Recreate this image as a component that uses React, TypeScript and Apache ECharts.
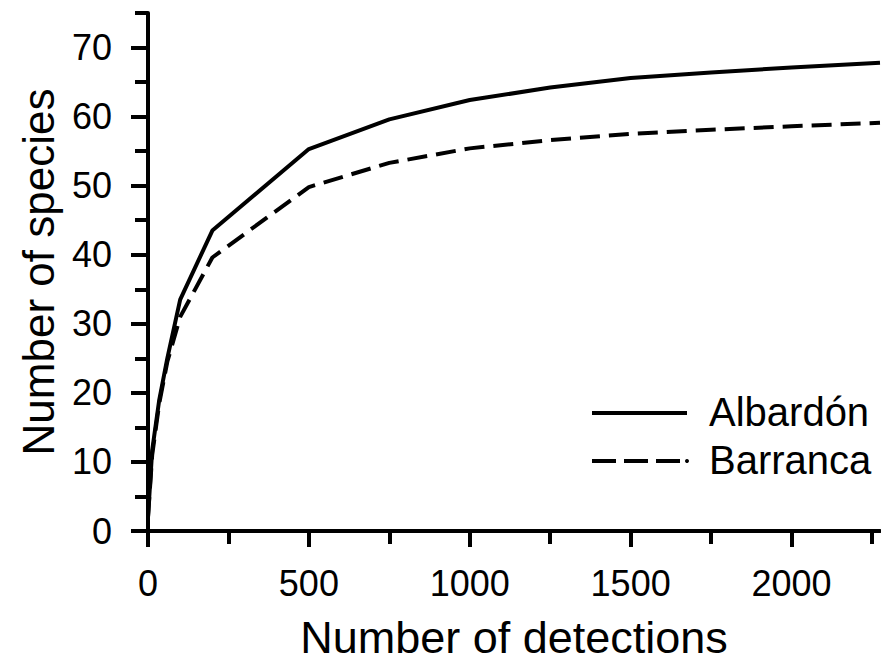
import React, { useEffect, useRef } from "react";
import * as echarts from "echarts";

const seriesNames = ["Albardón", "Barranca"];
const albardon: [number, number][] = [
  [0, 2], [13, 11.7], [35, 19], [60, 25], [100, 33.5], [200, 43.5], [500, 55.3],
  [750, 59.6], [1000, 62.4], [1250, 64.2], [1500, 65.6], [1750, 66.4], [2000, 67.1], [2275, 67.8],
];
const barranca: [number, number][] = [
  [0, 2], [13, 11], [35, 18.5], [60, 24.5], [100, 31], [200, 39.6], [500, 49.8],
  [750, 53.3], [1000, 55.4], [1250, 56.6], [1500, 57.5], [1750, 58.1], [2000, 58.6], [2275, 59.1],
];
const xMajorTicks = [0, 500, 1000, 1500, 2000];
const xMinorTicks = [250, 750, 1250, 1750, 2250];
const yMajorTicks = [0, 10, 20, 30, 40, 50, 60, 70];
const yMinorTicks = [5, 15, 25, 35, 45, 55, 65, 75];
const xTitle = "Number of detections";
const yTitle = "Number of species";

const FONT = "'Liberation Sans', Arial, sans-serif";

export default function App() {
  const ref = useRef<HTMLDivElement>(null);
  useEffect(() => {
    if (!ref.current) return;
    const chart = echarts.init(ref.current, undefined, { renderer: "svg" });
    const axisLine = { show: true, lineStyle: { color: "#000", width: 4 } };
    const fmt = (v: number) => String(v);
    chart.setOption({
      animation: false,
      backgroundColor: "#fff",
      grid: { left: 148, right: 1, top: 13, bottom: 137 },
      graphic: [
        { type: "line", shape: { x1: 592, y1: 413, x2: 687, y2: 413 }, style: { stroke: "#000", lineWidth: 4 } },
        { type: "text", left: 709, top: 413 - 21, style: { text: seriesNames[0], font: `40px ${FONT}`, fill: "#000" } },
        { type: "line", shape: { x1: 592, y1: 461, x2: 680, y2: 461 }, style: { stroke: "#000", lineWidth: 4, lineDash: [24, 8] } },
        { type: "circle", shape: { cx: 687, cy: 461, r: 2 }, style: { fill: "#000" } },
        { type: "text", left: 709, top: 461 - 21, style: { text: seriesNames[1], font: `40px ${FONT}`, fill: "#000" } },
      ],
      xAxis: [
        {
          type: "value",
          min: 0,
          max: 2275,
          name: xTitle,
          nameLocation: "middle",
          nameGap: 84,
          nameTextStyle: { fontFamily: FONT, fontSize: 45, color: "#000" },
          axisLine,
          axisTick: { show: true, length: 16, lineStyle: { color: "#000", width: 4 }, customValues: xMajorTicks },
          axisLabel: { show: true, margin: 34, fontFamily: FONT, fontSize: 36, color: "#000", customValues: xMajorTicks, formatter: fmt },
          splitLine: { show: false },
        },
        {
          type: "value",
          min: 0,
          max: 2275,
          position: "bottom",
          axisLine: { show: false },
          axisTick: { show: true, length: 13, lineStyle: { color: "#000", width: 4 }, customValues: xMinorTicks },
          axisLabel: { show: false },
          splitLine: { show: false },
        },
      ],
      yAxis: [
        {
          type: "value",
          min: 0,
          max: 75,
          name: yTitle,
          nameLocation: "middle",
          nameGap: 88,
          nameTextStyle: { fontFamily: FONT, fontSize: 44, color: "#000" },
          axisLine,
          axisTick: { show: true, length: 17, lineStyle: { color: "#000", width: 4 }, customValues: yMajorTicks },
          axisLabel: { show: true, margin: 36, fontFamily: FONT, fontSize: 36, color: "#000", customValues: yMajorTicks, formatter: fmt },
          splitLine: { show: false },
        },
        {
          type: "value",
          min: 0,
          max: 75,
          position: "left",
          axisLine: { show: false },
          axisTick: { show: true, length: 13, lineStyle: { color: "#000", width: 4 }, customValues: yMinorTicks },
          axisLabel: { show: false },
          splitLine: { show: false },
        },
      ],
      series: [
        {
          name: seriesNames[0],
          type: "line",
          data: albardon,
          symbol: "none",
          lineStyle: { color: "#000", width: 4, type: "solid" },
          itemStyle: { color: "#000" },
        },
        {
          name: seriesNames[1],
          type: "line",
          data: barranca,
          symbol: "none",
          lineStyle: { color: "#000", width: 4, type: [20, 9] },
          itemStyle: { color: "#000" },
        },
      ],
    });
    return () => chart.dispose();
  }, []);
  return (
    <div
      ref={ref}
      style={{ position: "absolute", left: 0, top: 0, width: 881, height: 668 }}
    />
  );
}
